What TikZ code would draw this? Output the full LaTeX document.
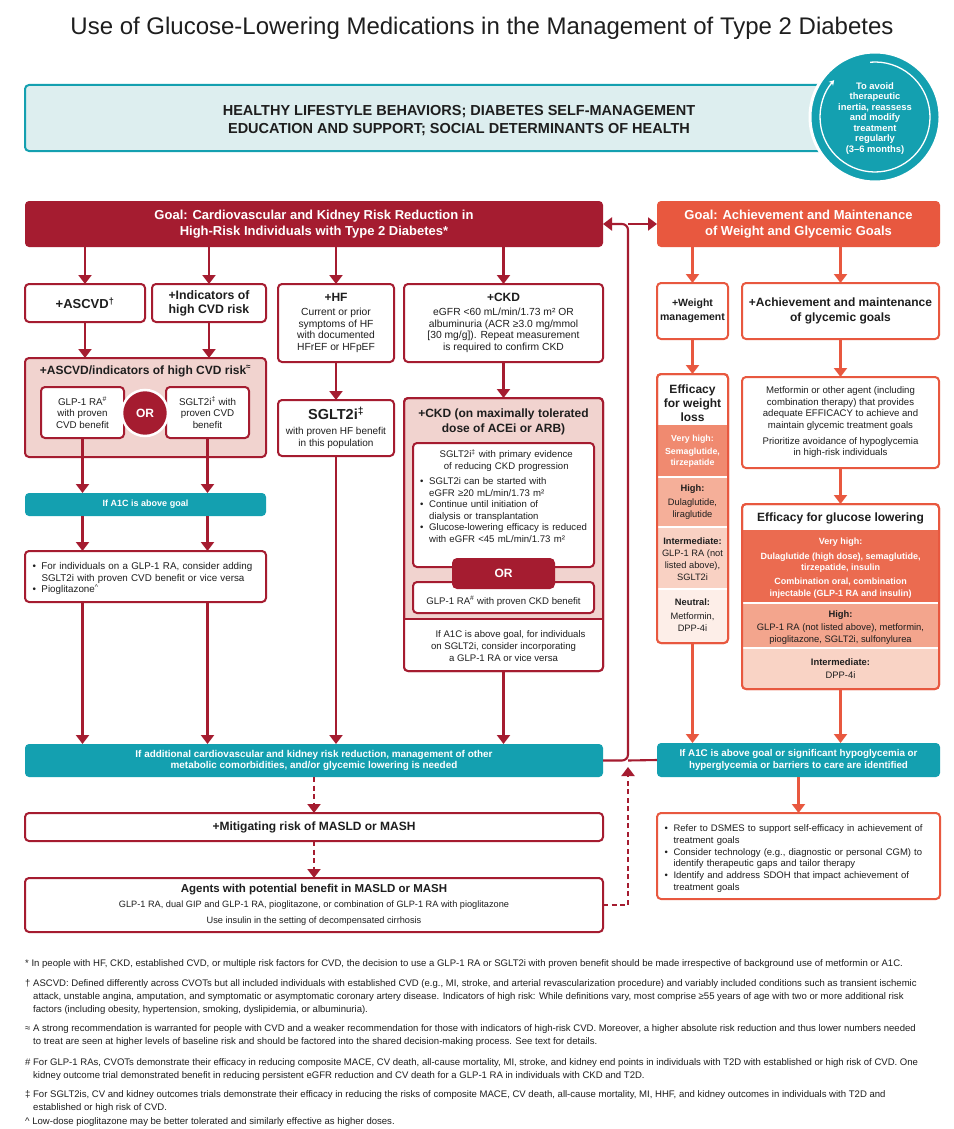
\documentclass[tikz,border=0pt]{standalone}
\usepackage{fontspec}
\setmainfont{Liberation Sans}
\usetikzlibrary{arrows.meta}
\definecolor{dred}{HTML}{A51C30}
\definecolor{coral}{HTML}{E8583F}
\definecolor{tealc}{HTML}{14A0B0}
\definecolor{lteal}{HTML}{DDEEEF}
\definecolor{pinkc}{HTML}{F1D3CF}
\definecolor{wv}{HTML}{F08A70}
\definecolor{wh}{HTML}{F5AF99}
\definecolor{wi}{HTML}{F9D1C3}
\definecolor{wn}{HTML}{FDEEE8}
\definecolor{gv}{HTML}{EB6B50}
\definecolor{gh}{HTML}{F3A58D}
\definecolor{gi}{HTML}{F9D3C5}
\definecolor{ink}{HTML}{1E1E1E}
\newcommand{\fsz}[2]{\fontsize{#1}{#2}\selectfont}
\newcommand{\bulit}{\par\hangindent=9pt\hangafter=1\noindent\makebox[9pt][l]{\textbullet}}
\tikzset{
 rbox/.style={draw=dred, line width=2pt, rounded corners=4pt, fill=white, anchor=north west, inner sep=0pt, outer sep=0pt, align=center, text=ink},
 obox/.style={rbox, draw=coral},
 tbox/.style={fill=tealc, rounded corners=4pt, anchor=north west, inner sep=0pt, outer sep=0pt, align=center, text=white},
 arr/.style={draw=dred, line width=2.1pt, -{Triangle[width=13pt,length=9pt]}},
 oarr/.style={draw=coral, line width=2.1pt, -{Triangle[width=13pt,length=9pt]}},
 lbl/.style={inner sep=0pt, align=center, text=ink},
 fn/.style={anchor=base west, inner sep=0pt, font=\fsz{9.55}{13}, text=ink},
}
\begin{document}
\begin{tikzpicture}[x=1pt,y=-1pt]
\useasboundingbox (0,0) rectangle (953,1129);
\fill[white] (0,0) rectangle (953,1129);

% title
\node[lbl, font=\fsz{24}{28}] (title) at (482,28) {Use of Glucose-Lowering Medications in the Management of Type 2 Diabetes};

% lifestyle
\node[draw=tealc, fill=lteal, line width=2pt, rounded corners=4pt, anchor=north west, minimum width=810pt, minimum height=66pt, inner sep=0pt, outer sep=0pt] (life) at (25,85) {};
\node[lbl, font=\bfseries\fsz{14.5}{17.5}] (lifet) at (459,120.5) {HEALTHY LIFESTYLE BEHAVIORS; DIABETES SELF-MANAGEMENT\\EDUCATION AND SUPPORT; SOCIAL DETERMINANTS OF HEALTH};

% circle
\node[circle, fill=tealc, draw=white, line width=3pt, minimum size=130pt, inner sep=0pt] (circ) at (875,117) {};
\draw[white, line width=1.3pt, -{Stealth[length=5pt,width=6pt]}] ([shift={(-95:55)}]circ.center) arc[start angle=-95, end angle=222, radius=55];
\node[lbl, text=white, font=\bfseries\fsz{9.4}{10.5}] (circt) at (875,118.5) {To avoid\\therapeutic\\inertia, reassess\\and modify\\treatment\\regularly\\(3–6 months)};

% headers
\node[fill=dred, rounded corners=4pt, anchor=north west, minimum width=578pt, minimum height=46pt, inner sep=0pt, outer sep=0pt, text=white, align=center, font=\bfseries\fsz{13}{16}] (goalL) at (25,201) {Goal: Cardiovascular and Kidney Risk Reduction in\\High-Risk Individuals with Type 2 Diabetes*};
\node[fill=coral, rounded corners=4pt, anchor=north west, minimum width=283pt, minimum height=46pt, inner sep=0pt, outer sep=0pt, text=white, align=center, font=\bfseries\fsz{13}{16}] (goalR) at (657,201) {Goal: Achievement and Maintenance\\of Weight and Glycemic Goals};

% row 2 left
\node[rbox, minimum width=120pt, minimum height=38pt, font=\bfseries\fsz{13}{14}] (ascvd) at (25,284) {+ASCVD\textsuperscript{†}};
\node[rbox, minimum width=114pt, minimum height=38pt, font=\bfseries\fsz{12.3}{14}] (indic) at (152,284) {+Indicators of\\high CVD risk};
\node[rbox, minimum width=116pt, minimum height=78pt, font=\fsz{10.3}{11.6}] (hf) at (278,284) {{\bfseries\fsz{12}{14}+HF}\\[2pt]Current or prior\\symptoms of HF\\with documented\\HFrEF or HFpEF};
\node[rbox, minimum width=199pt, minimum height=78pt, font=\fsz{10.3}{11.6}] (ckd) at (404,284) {{\bfseries\fsz{12}{14}+CKD}\\[2pt]eGFR <60 mL/min/1.73 m² OR\\albuminuria (ACR ≥3.0 mg/mmol\\{}[30 mg/g]). Repeat measurement\\is required to confirm CKD};

% ASCVD / indicators box
\node[rbox, fill=pinkc, minimum width=241pt, minimum height=99pt] (cvd) at (25,358) {};
\node[lbl, font=\bfseries\fsz{12}{14}] (cvdt) at (145.5,371) {+ASCVD/indicators of high CVD risk\textsuperscript{≈}};
\node[rbox, minimum width=83pt, minimum height=51pt, font=\fsz{9.8}{11.6}] (glp) at (41,387) {GLP-1 RA\textsuperscript{\#}\\with proven\\CVD benefit};
\node[rbox, minimum width=83pt, minimum height=51pt, font=\fsz{9.8}{11.6}] (sglt) at (166,387) {SGLT2i\textsuperscript{‡} with\\proven CVD\\benefit};
\node[circle, fill=dred, draw=white, line width=2.5pt, minimum size=46pt, inner sep=0pt, text=white, font=\bfseries\fsz{12}{14}] (or1) at (145,413) {OR};

\node[tbox, minimum width=241pt, minimum height=23pt, font=\bfseries\fsz{9}{11}] (a1c) at (25,493) {If A1C is above goal};
\node[rbox, minimum width=241pt, minimum height=51pt, text width=226pt, align=left, font=\fsz{9.8}{11.6}] (bl) at (25,551) {\bulit For individuals on a GLP-1 RA, consider adding\newline SGLT2i with proven CVD benefit or vice versa\bulit Pioglitazone\textsuperscript{\textasciicircum}\par};

% HF SGLT2i
\node[rbox, minimum width=116pt, minimum height=56pt, font=\fsz{10}{11.8}] (sgl) at (278,400) {{\bfseries\fsz{14.5}{16}SGLT2i\textsuperscript{‡}}\\[3pt]with proven HF benefit\\in this population};

% CKD box
\node[rbox, fill=pinkc, minimum width=199pt, minimum height=273pt] (ckdb) at (404,398) {};
\coordinate (ckcut) at (404,619);
\begin{scope}
\clip[rounded corners=4pt] (ckdb.north west) rectangle (ckdb.south east);
\fill[white] (ckcut) rectangle (ckdb.south east);
\end{scope}
\draw[dred, line width=2pt] (ckcut) -- (ckcut -| ckdb.east);
\draw[dred, line width=2pt, rounded corners=4pt] (ckdb.north west) rectangle (ckdb.south east);
\node[lbl, font=\bfseries\fsz{12}{14.5}] (ckdt) at (503.5,422) {+CKD (on maximally tolerated\\dose of ACEi or ARB)};
\node[rbox, minimum width=181pt, minimum height=124pt] (ck1) at (413,443) {};
\node[anchor=north west, inner sep=0pt, text width=172pt, align=left, text=ink, font=\fsz{9.6}{11.5}] (ck1t) at (420,449) {\centering SGLT2i\textsuperscript{‡} with primary evidence\\of reducing CKD progression\par\vspace{4pt}\raggedright\bulit SGLT2i can be started with\newline eGFR ≥20 mL/min/1.73 m²\bulit Continue until initiation of\newline dialysis or transplantation\bulit Glucose-lowering efficacy is reduced\newline with eGFR <45 mL/min/1.73 m²\par};
\node[rbox, minimum width=181pt, minimum height=31pt] (ck2) at (413,582) {};
\node[lbl, font=\fsz{9.6}{11.5}] (ck2t) at (503.5,601) {GLP-1 RA\textsuperscript{\#} with proven CKD benefit};
\node[fill=dred, rounded corners=5pt, anchor=north west, minimum width=103pt, minimum height=31pt, inner sep=0pt, outer sep=0pt, text=white, font=\bfseries\fsz{12}{14}] (or2) at (452,558) {OR};
\node[lbl, font=\fsz{9.6}{11.6}] (ckbt) at (503.5,646) {\hspace*{14pt}If A1C is above goal, for individuals\\on SGLT2i, consider incorporating\\a GLP-1 RA or vice versa};

% bottom left
\node[tbox, minimum width=578pt, minimum height=33pt, font=\bfseries\fsz{9.9}{11.5}] (tealL) at (25,744) {If additional cardiovascular and kidney risk reduction, management of other\\metabolic comorbidities, and/or glycemic lowering is needed};
\node[rbox, minimum width=578pt, minimum height=28pt, font=\bfseries\fsz{12}{14}] (mit) at (25,813) {+Mitigating risk of MASLD or MASH};
\node[rbox, minimum width=578pt, minimum height=54pt, font=\fsz{9.2}{11}] (agents) at (25,878) {{\bfseries\fsz{11.5}{13}Agents with potential benefit in MASLD or MASH}\\[4pt]GLP-1 RA, dual GIP and GLP-1 RA, pioglitazone, or combination of GLP-1 RA with pioglitazone\\[5pt]Use insulin in the setting of decompensated cirrhosis};

% right column
\node[obox, minimum width=71pt, minimum height=56pt, font=\bfseries\fsz{10.5}{13.5}] (wt) at (657,283) {+Weight\\management};
\node[obox, minimum width=197pt, minimum height=56pt, font=\bfseries\fsz{12}{14.5}] (ach) at (742,283) {+Achievement and maintenance\\of glycemic goals};
\node[obox, minimum width=71pt, minimum height=269pt] (eff) at (657,374) {};
\begin{scope}
\clip[rounded corners=4pt] (eff.north west) rectangle (eff.south east);
\fill[wv] (657,425) rectangle (728,477);
\fill[wh] (657,477) rectangle (728,527);
\fill[wi] (657,527) rectangle (728,589);
\fill[wn] (657,589) rectangle (728,643);
\end{scope}
\draw[white, line width=1.2pt] (657,477) -- (728,477) (657,527) -- (728,527) (657,589) -- (728,589);
\draw[coral, line width=2pt, rounded corners=4pt] (eff.north west) rectangle (eff.south east);
\node[lbl, font=\bfseries\fsz{12}{14}] (effh) at (692.5,403) {Efficacy\\for weight\\loss};
\node[lbl, text=white, font=\bfseries\fsz{8.8}{11.2}] (wvt) at (692.5,451) {Very high:\\[2pt]Semaglutide,\\tirzepatide};
\node[lbl, font=\fsz{9.3}{11.2}] (wht) at (692.5,502) {\textbf{High:}\\[3pt]Dulaglutide,\\liraglutide};
\node[lbl, font=\fsz{9.3}{12}] (wit) at (692.5,559) {\textbf{Intermediate:}\\GLP-1 RA (not\\listed above),\\SGLT2i};
\node[lbl, font=\fsz{9.3}{11.2}] (wnt) at (692.5,615) {\textbf{Neutral:}\\[3pt]Metformin,\\DPP-4i};

\node[obox, minimum width=197pt, minimum height=91pt, font=\fsz{9.6}{11.4}] (metf) at (742,377) {Metformin or other agent (including\\combination therapy) that provides\\adequate EFFICACY to achieve and\\maintain glycemic treatment goals\\[5pt]Prioritize avoidance of hypoglycemia\\in high-risk individuals};

\node[obox, minimum width=197pt, minimum height=185pt] (gluc) at (742,504) {};
\begin{scope}
\clip[rounded corners=4pt] (gluc.north west) rectangle (gluc.south east);
\fill[gv] (742,530) rectangle (939,603);
\fill[gh] (742,603) rectangle (939,648);
\fill[gi] (742,648) rectangle (939,689);
\end{scope}
\draw[white, line width=1.2pt] (742,603) -- (939,603) (742,648) -- (939,648);
\draw[coral, line width=2pt, rounded corners=4pt] (gluc.north west) rectangle (gluc.south east);
\node[lbl, font=\bfseries\fsz{12}{14}] (gt) at (840.5,518) {Efficacy for glucose lowering};
\node[lbl, text=white, font=\bfseries\fsz{9}{11.3}] (gvt) at (840.5,568) {Very high:\\[3.5pt]Dulaglutide (high dose), semaglutide,\\tirzepatide, insulin\\[3pt]Combination oral, combination\\injectable (GLP-1 RA and insulin)};
\node[lbl, font=\fsz{9.4}{12}] (ght) at (840.5,627.5) {\textbf{High:}\\[1pt]GLP-1 RA (not listed above), metformin,\\pioglitazone, SGLT2i, sulfonylurea};
\node[lbl, font=\fsz{9.4}{12}] (git) at (840.5,668.5) {\textbf{Intermediate:}\\[1pt]DPP-4i};

\node[tbox, minimum width=283pt, minimum height=34pt, font=\bfseries\fsz{9.8}{11.5}] (tealR) at (657,743) {If A1C is above goal or significant hypoglycemia or\\hyperglycemia or barriers to care are identified};
\node[obox, minimum width=283pt, minimum height=86pt, text width=268pt, align=left, font=\fsz{9.5}{11.8}] (bR) at (657,813) {\bulit Refer to DSMES to support self-efficacy in achievement of\newline treatment goals\bulit Consider technology (e.g., diagnostic or personal CGM) to\newline identify therapeutic gaps and tailor therapy\bulit Identify and address SDOH that impact achievement of\newline treatment goals\par};

% connectors left
\draw[arr] (ascvd.north |- goalL.south) -- (ascvd.north);
\draw[arr] (indic.north |- goalL.south) -- (indic.north);
\draw[arr] (hf.north |- goalL.south) -- (hf.north);
\draw[arr] (ckd.north |- goalL.south) -- (ckd.north);
\draw[arr] (ascvd.south) -- (ascvd.south |- cvd.north);
\draw[arr] (indic.south) -- (indic.south |- cvd.north);
\draw[arr] (glp.south) -- (glp.south |- a1c.north);
\draw[arr] (sglt.south) -- (sglt.south |- a1c.north);
\draw[arr] (a1c.south -| glp.south) -- (bl.north -| glp.south);
\draw[arr] (a1c.south -| sglt.south) -- (bl.north -| sglt.south);
\draw[arr] (bl.south -| glp.south) -- (tealL.north -| glp.south);
\draw[arr] (bl.south -| sglt.south) -- (tealL.north -| sglt.south);
\draw[arr] (hf.south) -- (sgl.north);
\draw[arr] (sgl.south) -- (sgl.south |- tealL.north);
\draw[arr] (ckd.south) -- (ckdb.north);
\draw[arr] (ckdb.south) -- (ckdb.south |- tealL.north);
\draw[arr, dash pattern=on 5pt off 3.5pt] (tealL.south) -- (mit.north);
\draw[arr, dash pattern=on 5pt off 3.5pt] (mit.south) -- (agents.north);

% loop connectors
\coordinate (jn) at (628,760.5);
\coordinate (jt) at (jn |- goalL.east);
\coordinate (jd) at (628,767);
\draw[arr, rounded corners=6pt] (tealL.east) -- (jn) -- (jt) -- (goalL.east);
\draw[arr] (jt) -- (goalR.west);
\draw[draw=dred, line width=2.1pt] (tealR.west) -- (jn);
\draw[arr, dash pattern=on 5pt off 3.5pt] (agents.east) -- (agents.east -| jd) -- (jd);

% connectors right
\draw[oarr] (wt.north |- goalR.south) -- (wt.north);
\draw[oarr] (ach.north |- goalR.south) -- (ach.north);
\draw[oarr] (wt.south) -- (eff.north);
\draw[oarr] (ach.south) -- (metf.north);
\draw[oarr] (metf.south) -- (gluc.north);
\draw[oarr] (eff.south) -- (eff.south |- tealR.north);
\draw[oarr] (gluc.south) -- (gluc.south |- tealR.north);
\draw[oarr] (tealR.south) -- (bR.north);

% footnotes
\node[fn] (f1) at (25,966) {* In people with HF, CKD, established CVD, or multiple risk factors for CVD, the decision to use a GLP-1 RA or SGLT2i with proven benefit should be made irrespective of background use of metformin or A1C.};
\node[fn] (f2a) at (25,986) {† ASCVD: Defined differently across CVOTs but all included individuals with established CVD (e.g., MI, stroke, and arterial revascularization procedure) and variably included conditions such as transient ischemic};
\node[fn] (f2b) at (33,999) {attack, unstable angina, amputation, and symptomatic or asymptomatic coronary artery disease. Indicators of high risk: While definitions vary, most comprise ≥55 years of age with two or more additional risk};
\node[fn] (f2c) at (33,1012) {factors (including obesity, hypertension, smoking, dyslipidemia, or albuminuria).};
\node[fn] (f3a) at (25,1031) {≈ A strong recommendation is warranted for people with CVD and a weaker recommendation for those with indicators of high-risk CVD. Moreover, a higher absolute risk reduction and thus lower numbers needed};
\node[fn] (f3b) at (33,1044) {to treat are seen at higher levels of baseline risk and should be factored into the shared decision-making process. See text for details.};
\node[fn] (f4a) at (25,1065) {\# For GLP-1 RAs, CVOTs demonstrate their efficacy in reducing composite MACE, CV death, all-cause mortality, MI, stroke, and kidney end points in individuals with T2D with established or high risk of CVD. One};
\node[fn] (f4b) at (33,1078) {kidney outcome trial demonstrated benefit in reducing persistent eGFR reduction and CV death for a GLP-1 RA in individuals with CKD and T2D.};
\node[fn] (f5a) at (25,1097) {‡ For SGLT2is, CV and kidney outcomes trials demonstrate their efficacy in reducing the risks of composite MACE, CV death, all-cause mortality, MI, HHF, and kidney outcomes in individuals with T2D and};
\node[fn] (f5b) at (33,1110) {established or high risk of CVD.};
\node[fn] (f6) at (25,1124) {\textasciicircum\ Low-dose pioglitazone may be better tolerated and similarly effective as higher doses.};
\end{tikzpicture}
\end{document}
